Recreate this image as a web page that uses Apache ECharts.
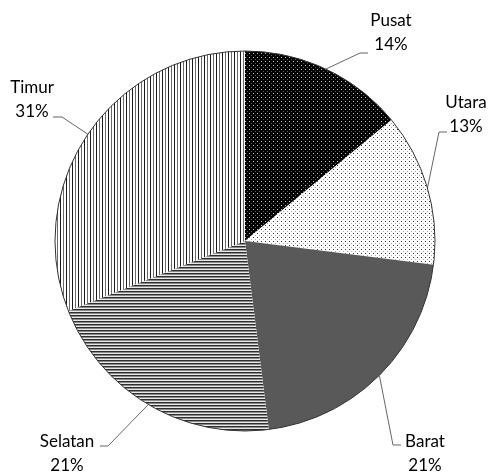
<!DOCTYPE html>
<html lang="en">
<head>
    <meta charset="UTF-8">
    <title>Pie</title>
    <script src="https://cdn.jsdelivr.net/npm/echarts@6/dist/echarts.min.js"></script>
    <style>
        html, body { margin: 0; padding: 0; background: #fff; }
        #container { width: 489px; height: 473px; }
    </style>
</head>
<body>
<div id="container"></div>
<script>
    var categories = ['Pusat', 'Utara', 'Barat', 'Selatan', 'Timur'];
    var values = [14, 13, 21, 21, 31];

    var CX = 245, CY = 241, R = 190;

    // label block centre, elbow of the leader line, end of the leader line
    var labelLayout = [
        { x: 391, y: 33, elbow: [360, 53], end: [368, 53] },
        { x: 466, y: 115, elbow: [439, 132], end: [447, 132] },
        { x: 425, y: 454, elbow: [393, 445], end: [401, 445] },
        { x: 67, y: 454, elbow: [108, 446], end: [100, 446] },
        { x: 32, y: 100, elbow: [62, 117], end: [53, 117] }
    ];

    // 小图案填充
    function makePattern(w, h, bg, pixels) {
        var c = document.createElement('canvas');
        c.width = w; c.height = h;
        var ctx = c.getContext('2d');
        ctx.fillStyle = bg;
        ctx.fillRect(0, 0, w, h);
        pixels.forEach(function (p) {
            ctx.fillStyle = p[2];
            ctx.fillRect(p[0], p[1], 1, 1);
        });
        return { image: c, repeat: 'repeat' };
    }

    var fills = [
        makePattern(4, 4, '#000', [[1, 1, '#c8c8c8'], [3, 3, '#555']]),
        makePattern(4, 4, '#fff', [[1, 1, '#333'], [3, 3, '#aaa']]),
        '#595959',
        makePattern(1, 3, '#fff', [[0, 0, '#2e2e2e'], [0, 1, '#8a8a8a'], [0, 2, '#e8e8e8']]),
        makePattern(6, 1, '#fff', [[0, 0, '#1a1a1a'], [3, 0, '#6a6a6a']])
    ];

    var total = values.reduce(function (a, b) { return a + b; }, 0);
    var midAngles = [];
    var acc = 0;
    values.forEach(function (v) {
        midAngles.push((acc + v / 2) / total * Math.PI * 2);
        acc += v;
    });

    var data = categories.map(function (name, i) {
        return { name: name, value: values[i], itemStyle: { color: fills[i] } };
    });

    var myCharts = echarts.init(document.getElementById('container'));

    myCharts.setOption({
        animation: false,
        series: [
            {
                type: 'pie',
                center: [CX, CY],
                radius: R,
                startAngle: 90,
                clockwise: true,
                avoidLabelOverlap: false,
                data: data,
                itemStyle: { borderWidth: 0 },
                label: {
                    show: true,
                    formatter: '{b}\n{d}%',
                    fontFamily: 'Lato',
                    fontSize: 17,
                    lineHeight: 24,
                    color: '#000',
                    align: 'center',
                    overflow: 'none'
                },
                labelLine: {
                    show: true,
                    lineStyle: { color: '#666', width: 1 }
                },
                labelLayout: function (params) {
                    var i = params.dataIndex;
                    var L = labelLayout[i];
                    var a = midAngles[i];
                    var start = [CX + R * Math.sin(a), CY - R * Math.cos(a)];
                    return {
                        x: L.x,
                        y: L.y,
                        align: 'center',
                        verticalAlign: 'middle',
                        hideOverlap: false,
                        labelLinePoints: [start, L.elbow, L.end]
                    };
                }
            },
            {
                // 外圈描边
                type: 'pie',
                center: [CX, CY],
                radius: R,
                silent: true,
                data: [{ value: 1 }],
                label: { show: false },
                labelLine: { show: false },
                itemStyle: { color: 'rgba(0,0,0,0)', borderColor: '#333', borderWidth: 1 }
            }
        ]
    });
</script>
</body>
</html>
